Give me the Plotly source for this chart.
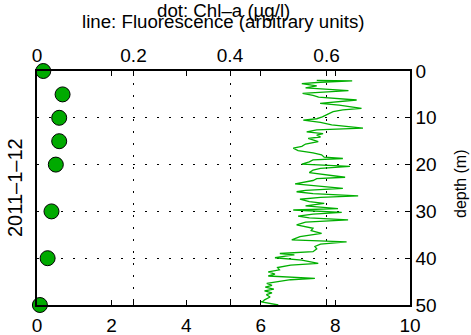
import plotly.graph_objects as go

# Chl-a bottle samples (dots, top axis)
chl_depth = [0, 5, 10, 15, 20, 30, 40, 50]
chl_value = [0.013, 0.053, 0.046, 0.046, 0.039, 0.030, 0.022, 0.006]

# Fluorescence profile (line, bottom axis)
fl_depth = [2.0, 2.1, 2.4, 2.7, 3.2, 3.6, 4.2, 4.8, 5.2, 5.6, 6.2, 6.6, 6.9, 7.3, 8.0, 8.3,
            8.7, 9.2, 9.8, 10.2, 10.5, 11.0, 11.5, 12.2, 12.6, 13.0, 13.4, 13.7, 14.1, 14.4,
            15.1, 15.6, 16.1, 16.5, 17.0, 17.5, 17.9, 18.4, 18.7, 19.0, 19.4, 19.9, 20.4,
            20.8, 21.2, 21.7, 22.2, 22.7, 23.0, 23.4, 24.1, 24.6, 25.1, 25.5, 25.8, 26.2,
            26.7, 27.0, 27.4, 27.9, 28.3, 28.8, 29.4, 29.7, 30.2, 30.6, 31.0, 31.4, 31.8,
            32.3, 32.9, 33.6, 34.1, 34.7, 35.4, 36.1, 36.5, 37.0, 37.5, 38.0, 38.6, 39.0,
            39.3, 39.9, 40.4, 41.1, 41.5, 42.0, 42.5, 42.9, 43.4, 43.8, 44.3, 44.6,
            44.9, 45.4, 45.8, 46.2, 46.6, 47.0, 47.4, 47.8, 48.3, 48.9, 49.3, 49.3, 50.0]
fl_value = [7.50, 8.45, 7.60, 7.10, 7.50, 7.20, 8.35, 7.12, 7.40, 7.55, 8.57, 7.90, 7.59, 8.10, 8.70, 8.20,
            7.94, 7.80, 7.65, 7.50, 7.14, 7.60, 7.90, 8.74, 7.50, 7.23, 7.67, 7.50, 7.60, 7.27,
            7.54, 7.20, 7.10, 6.87, 7.00, 7.40, 7.63, 7.70, 8.20, 7.40, 7.30, 7.10, 8.39,
            7.60, 7.40, 7.30, 7.80, 8.26, 7.50, 7.40, 6.92, 7.50, 8.20, 7.20, 6.96, 7.40,
            8.61, 7.60, 7.05, 7.30, 7.70, 7.20, 8.07, 6.87, 8.17, 7.40, 7.00, 7.30, 8.34,
            7.20, 6.96, 7.40, 7.35, 7.63, 7.05, 6.83, 8.30, 7.60, 7.45, 7.50, 7.40, 6.51,
            6.90, 6.38, 7.10, 7.54, 6.80, 6.45, 6.50, 6.20, 6.38, 6.20, 7.45, 6.80, 6.60,
            6.16, 6.30, 6.12, 6.35, 6.10, 6.30, 6.15, 6.25, 6.10, 6.05, 5.98, 6.47, 6.47]

bottom_ticks = [0, 2, 4, 6, 8, 10]
top_ticks = [0, 0.2, 0.4, 0.6]
depth_ticks = [0, 10, 20, 30, 40, 50]

FONT = "Liberation Sans, Arial, sans-serif"

fig = go.Figure()
fig.add_trace(go.Scatter(x=fl_value, y=fl_depth, mode="lines", xaxis="x", yaxis="y",
                         line=dict(color="rgb(0,175,0)", width=1.3), showlegend=False))
fig.add_trace(go.Scatter(x=chl_value, y=chl_depth, mode="markers", xaxis="x2", yaxis="y",
                         marker=dict(size=15, color="rgb(0,170,0)", line=dict(color="black", width=1)),
                         cliponaxis=False, showlegend=False))

fig.update_layout(
    width=471, height=335,
    margin=dict(l=37, r=61, t=71, b=30),
    paper_bgcolor="white", plot_bgcolor="white",
    font=dict(family=FONT, size=19, color="black"),
    xaxis=dict(range=[0, 10], tickvals=bottom_ticks, ticks="inside", ticklen=5, tickwidth=1,
               tickcolor="black", showline=True, linecolor="black", linewidth=1.5,
               mirror="ticks", showgrid=False, zeroline=False, side="bottom",
               automargin=False, ticklabelstandoff=2),
    xaxis2=dict(range=[0, 0.773], tickvals=top_ticks, ticktext=["0", "0.2", "0.4", "0.6"],
                ticks="inside", ticklen=5, tickwidth=1, tickcolor="black",
                overlaying="x", side="top", anchor="y", showline=True, linecolor="black",
                linewidth=1.5, mirror="ticks", showgrid=True, gridcolor="black", gridwidth=1,
                griddash="2px,10px", zeroline=False, automargin=False),
    yaxis=dict(range=[50, 0], tickvals=depth_ticks, side="right", ticks="inside", ticklen=5,
               tickwidth=1, tickcolor="black", showline=True, linecolor="black", linewidth=1.5,
               mirror=True, showgrid=True, gridcolor="black", gridwidth=1, griddash="2px,10px",
               zeroline=False, automargin=False),
    annotations=[
        dict(text="dot: Chl–a (µg/l)", xref="paper", yref="paper", x=0.5, y=(305 - 10) / 234,
             xanchor="center", yanchor="middle", showarrow=False, font=dict(size=18.7)),
        dict(text="line: Fluorescence (arbitrary units)", xref="paper", yref="paper", x=0.5,
             y=(305 - 21) / 234, xanchor="center", yanchor="middle", showarrow=False,
             font=dict(size=18.7)),
        dict(text="2011–1–12", xref="paper", yref="paper", x=(15 - 37) / 373, y=0.5,
             xanchor="center", yanchor="middle", textangle=-90, showarrow=False,
             font=dict(size=20)),
        dict(text="depth (m)", xref="paper", yref="paper", x=(460 - 37) / 373, y=(305 - 184) / 234,
             xanchor="center", yanchor="middle", textangle=-90, showarrow=False,
             font=dict(size=16)),
    ],
)

fig.write_html("out.html")
